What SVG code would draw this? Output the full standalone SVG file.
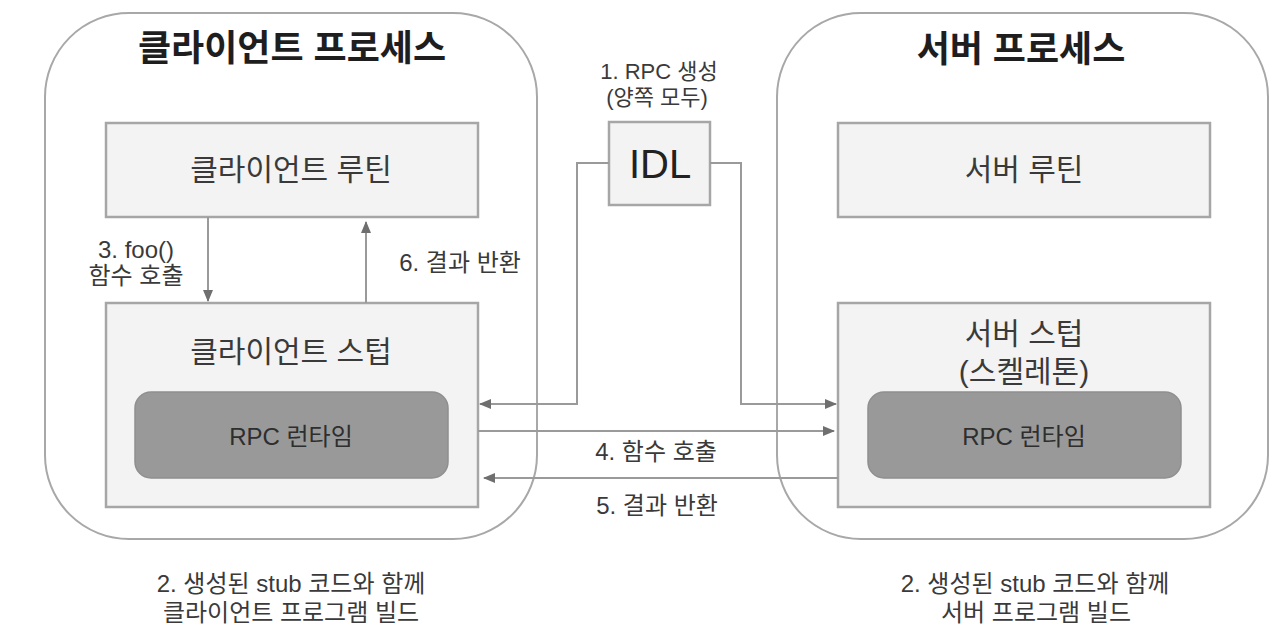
<svg xmlns="http://www.w3.org/2000/svg" width="1288" height="636" viewBox="0 0 1288 636">
<style>
.t{font-family:"Liberation Sans","Noto Sans CJK KR",sans-serif;fill:#3a3a3a;text-anchor:middle}
.title{font-size:36px;font-weight:bold;fill:#1e1e1e}
.lbl{font-size:30px}
.rt{font-size:24px;fill:#2e2e2e}
.sm{font-size:24px}
.proc{fill:#ffffff;stroke:#a8a8a8;stroke-width:2}
.box{fill:#f3f3f3;stroke:#a6a6a6;stroke-width:2.5}
.dark{fill:#999999;stroke:#8f8f8f;stroke-width:1.5}
.ln{fill:none;stroke:#9a9a9a;stroke-width:2}
</style>
<defs>
<marker id="ah" markerWidth="12" markerHeight="10" refX="11" refY="5" orient="auto" markerUnits="userSpaceOnUse">
<path d="M0,0 L12,5 L0,10 z" fill="#6f6f6f"/>
</marker>
</defs>
<g id="client-process">
<rect class="proc" x="45" y="13" width="492" height="526" rx="84" ry="84"/>
<text class="t title" x="292" y="61">클라이언트 프로세스</text>
</g>
<g id="server-process">
<rect class="proc" x="777" y="13" width="491" height="526" rx="84" ry="84"/>
<text class="t title" x="1021" y="62">서버 프로세스</text>
</g>
<g id="client-routine">
<rect class="box" x="106" y="123" width="372" height="94"/>
<text class="t lbl" x="291" y="180">클라이언트 루틴</text>
</g>
<g id="client-stub">
<rect class="box" x="106" y="303" width="372" height="204"/>
<text class="t lbl" x="291" y="362">클라이언트 스텁</text>
</g>
<g id="client-runtime">
<rect class="dark" x="135" y="392" width="313" height="86" rx="16" ry="16"/>
<text class="t rt" x="291" y="445">RPC 런타임</text>
</g>
<g id="server-routine">
<rect class="box" x="838" y="123" width="372" height="94"/>
<text class="t lbl" x="1024" y="180">서버 루틴</text>
</g>
<g id="server-stub">
<rect class="box" x="838" y="303" width="372" height="204"/>
<text class="t lbl" x="1024" y="344">서버 스텁</text>
<text class="t lbl" x="1024" y="382">(스켈레톤)</text>
</g>
<g id="server-runtime">
<rect class="dark" x="868" y="392" width="313" height="86" rx="16" ry="16"/>
<text class="t rt" x="1024" y="445">RPC 런타임</text>
</g>
<g id="idl">
<rect class="box" x="609" y="122" width="101" height="83"/>
<text class="t" x="660" y="178" style="font-size:40px;fill:#222">IDL</text>
<text class="t" x="659" y="79" style="font-size:22px">1. RPC 생성</text>
<text class="t" x="657" y="105" style="font-size:22px">(양쪽 모두)</text>
</g>
<g id="connectors">
<path class="ln" d="M208,217 V301" marker-end="url(#ah)"/>
<path class="ln" d="M366,303 V222" marker-end="url(#ah)"/>
<path class="ln" d="M609,163 H577 V404 H480" marker-end="url(#ah)"/>
<path class="ln" d="M710,163 H741 V404 H836" marker-end="url(#ah)"/>
<path class="ln" d="M478,431 H834" marker-end="url(#ah)"/>
<path class="ln" d="M838,478 H484" marker-end="url(#ah)"/>
</g>
<g id="labels">
<text class="t sm" x="136" y="258">3. foo()</text>
<text class="t sm" x="136" y="284">함수 호출</text>
<text class="t sm" x="460" y="271">6. 결과 반환</text>
<text class="t sm" x="656" y="460">4. 함수 호출</text>
<text class="t sm" x="657" y="514">5. 결과 반환</text>
<text class="t sm" x="291" y="592">2. 생성된 stub 코드와 함께</text>
<text class="t sm" x="291" y="621">클라이언트 프로그램 빌드</text>
<text class="t sm" x="1035" y="592">2. 생성된 stub 코드와 함께</text>
<text class="t sm" x="1036" y="621">서버 프로그램 빌드</text>
</g>
</svg>
